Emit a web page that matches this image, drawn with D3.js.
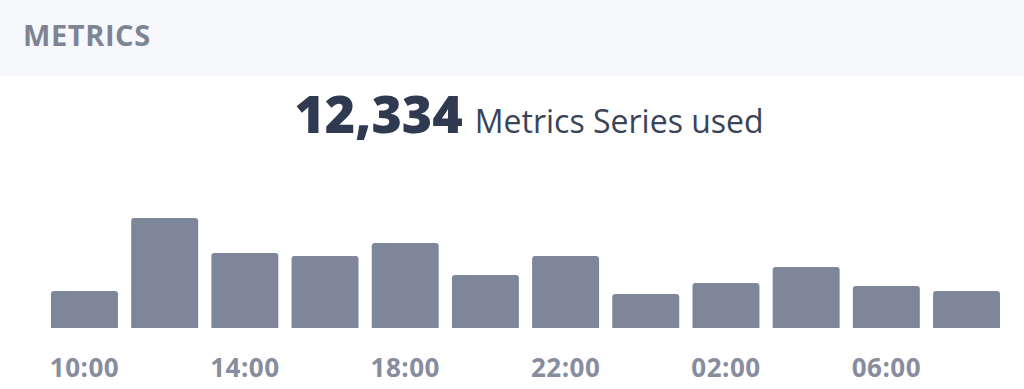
<!DOCTYPE html>
<html>
<head>
<meta charset="utf-8">
<script src="https://cdn.jsdelivr.net/npm/d3@7"></script>
<style>
  html, body { margin: 0; padding: 0; background: #fff; }
  #graphic { width: 1024px; height: 389px; }
  text { font-family: "Open Sans", Lato, sans-serif; }
</style>
</head>
<body>
<div id="graphic"></div>
<script>
// hourly bars, every other one labelled
const hours = ["10:00", "12:00", "14:00", "16:00", "18:00", "20:00",
               "22:00", "00:00", "02:00", "04:00", "06:00", "08:00"];
const series = [37, 110, 75, 72, 85, 53, 72, 34, 45, 61, 42, 37];
const tickLabels = ["10:00", "14:00", "18:00", "22:00", "02:00", "06:00"];
const total = 12334;

const width = 1024, height = 389;
const barColor = "#7e8699";

const svg = d3.select("#graphic")
  .append("svg")
  .attr("width", width)
  .attr("height", height);

// header strip
svg.append("rect")
  .attr("x", 0).attr("y", 0)
  .attr("width", width).attr("height", 76)
  .attr("fill", "#f7f8fb");

svg.append("text")
  .attr("x", 23).attr("y", 46)
  .attr("fill", "#7d8494")
  .style("font-size", "29px")
  .style("font-weight", 700)
  .style("letter-spacing", "0.6px")
  .text("METRICS");

// headline number
const headline = svg.append("text")
  .attr("x", 529).attr("y", 133)
  .attr("text-anchor", "middle");
headline.append("tspan")
  .attr("fill", "#2f3a50")
  .style("font-size", "52px")
  .style("font-weight", 800)
  .text(d3.format(",")(total));
headline.append("tspan")
  .attr("fill", "#3a4458")
  .attr("dx", 12)
  .style("font-size", "32px")
  .style("font-weight", 400)
  .text("Metrics Series used");

// scales
const x = d3.scaleBand()
  .domain(hours)
  .range([51, 1000])
  .paddingInner(0.165)
  .paddingOuter(0);

const y = d3.scaleLinear()
  .domain([0, 110])
  .range([328, 218]);

// bars with rounded top corners only
function barPath(x0, y0, w, h, r) {
  return `M${x0},${y0 + h}V${y0 + r}Q${x0},${y0} ${x0 + r},${y0}` +
         `H${x0 + w - r}Q${x0 + w},${y0} ${x0 + w},${y0 + r}V${y0 + h}Z`;
}

svg.append("g")
  .selectAll("path")
  .data(series)
  .enter().append("path")
    .attr("fill", barColor)
    .attr("d", (d, i) => barPath(x(hours[i]), y(d), x.bandwidth(), y(0) - y(d), 3));

// x axis labels
const xAxis = d3.axisBottom(x)
  .tickValues(tickLabels)
  .tickSize(0)
  .tickPadding(0);

const axisG = svg.append("g")
  .attr("transform", `translate(0, ${y(0)})`)
  .call(xAxis);

axisG.select(".domain").remove();
axisG.selectAll("text")
  .attr("dy", null)
  .attr("y", 49)
  .attr("fill", "#878d9c")
  .style("font-size", "26px")
  .style("font-weight", 700)
  .style("letter-spacing", "0.5px")
  .style("font-family", "'Open Sans', Lato, sans-serif");
</script>
</body>
</html>
